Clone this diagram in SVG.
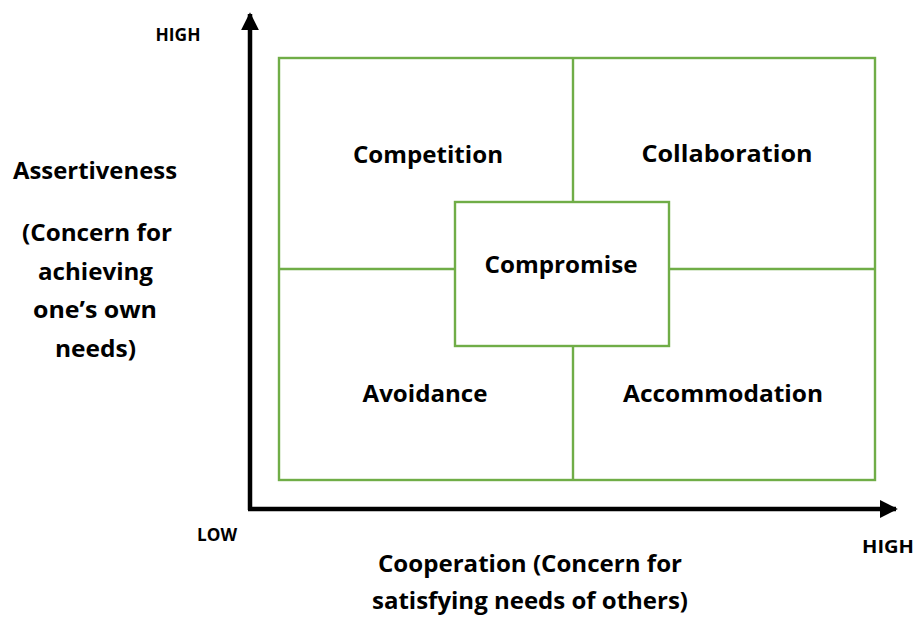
<svg xmlns="http://www.w3.org/2000/svg" width="919" height="617" viewBox="0 0 919 617">
  <style>
    .cell { fill: none; stroke: #70ad47; stroke-width: 2.4; }
    .axis { stroke: #000; stroke-width: 4.5; fill: none; }
    .lbl { font-family: "Open Sans", Lato, sans-serif; font-weight: bold; fill: #000; text-anchor: middle; }
    .big { font-size: 24px; }
    .small { font-size: 17px; }
  </style>
  <defs>
    <marker id="arrow" viewBox="0 0 10 10" refX="9" refY="5" markerWidth="4" markerHeight="4" markerUnits="strokeWidth" orient="auto">
      <path d="M0,0 L10,5 L0,10 Z" fill="#000"/>
    </marker>
  </defs>

  <rect width="919" height="617" fill="#fff"/>

  <!-- grid frame and dividers -->
  <g id="grid">
    <rect class="cell" x="279" y="58" width="596" height="422"/>
    <line class="cell" x1="573" y1="58" x2="573" y2="202"/>
    <line class="cell" x1="573" y1="346" x2="573" y2="480"/>
    <line class="cell" x1="279" y1="269" x2="455" y2="269"/>
    <line class="cell" x1="669" y1="269" x2="875" y2="269"/>
  </g>

  <!-- axes -->
  <g id="connectors">
    <line class="axis" x1="250" y1="510" x2="250" y2="14" marker-end="url(#arrow)"/>
    <line class="axis" x1="248" y1="509" x2="896" y2="509" marker-end="url(#arrow)"/>
  </g>

  <g id="competition">
    <text class="lbl big" x="428" y="163" textLength="150" lengthAdjust="spacingAndGlyphs">Competition</text>
  </g>
  <g id="collaboration">
    <text class="lbl big" x="727" y="162" textLength="171" lengthAdjust="spacingAndGlyphs">Collaboration</text>
  </g>
  <g id="compromise">
    <rect class="cell" x="455" y="202" width="214" height="144" fill="#fff"/>
    <text class="lbl big" x="561" y="273" textLength="153" lengthAdjust="spacingAndGlyphs">Compromise</text>
  </g>
  <g id="avoidance">
    <text class="lbl big" x="425" y="402" textLength="125" lengthAdjust="spacingAndGlyphs">Avoidance</text>
  </g>
  <g id="accommodation">
    <text class="lbl big" x="723" y="402" textLength="200" lengthAdjust="spacingAndGlyphs">Accommodation</text>
  </g>

  <!-- axis labels -->
  <g id="y-axis-label">
    <text class="lbl small" x="178" y="41" textLength="45" lengthAdjust="spacingAndGlyphs">HIGH</text>
    <text class="lbl big" x="95" y="179" textLength="164" lengthAdjust="spacingAndGlyphs">Assertiveness</text>
    <text class="lbl big" x="97" y="241" textLength="150" lengthAdjust="spacingAndGlyphs">(Concern for</text>
    <text class="lbl big" x="95.5" y="280" textLength="115" lengthAdjust="spacingAndGlyphs">achieving</text>
    <text class="lbl big" x="95" y="318" textLength="124" lengthAdjust="spacingAndGlyphs">one’s own</text>
    <text class="lbl big" x="95.5" y="357" textLength="81" lengthAdjust="spacingAndGlyphs">needs)</text>
  </g>
  <g id="x-axis-label">
    <text class="lbl small" x="217" y="541" textLength="40" lengthAdjust="spacingAndGlyphs">LOW</text>
    <text class="lbl small" x="888" y="553" textLength="52" lengthAdjust="spacingAndGlyphs">HIGH</text>
    <text class="lbl big" x="530" y="572" textLength="304" lengthAdjust="spacingAndGlyphs">Cooperation (Concern for</text>
    <text class="lbl big" x="530" y="609" textLength="316" lengthAdjust="spacingAndGlyphs">satisfying needs of others)</text>
  </g>
</svg>
